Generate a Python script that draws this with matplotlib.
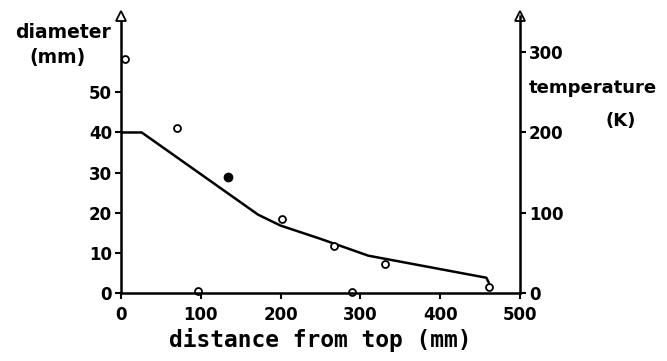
import matplotlib as mpl
import matplotlib.pyplot as plt

mpl.rcParams['font.family'] = 'DejaVu Sans'

# Data
line_x = [0, 26, 172, 200, 250, 310, 458, 461]
line_d = [40, 40, 19.5, 16.8, 13.5, 9.3, 3.8, 2.6]
open_x = [5, 70, 202, 267, 331, 461, 97, 289]
open_d = [58.2, 41, 18.4, 11.7, 7.2, 1.5, 0.5, 0.2]
filled_x = [134]
filled_d = [28.9]
d_ticks = [0, 10, 20, 30, 40, 50]
t_ticks = [0, 100, 200, 300]
x_ticks = [0, 100, 200, 300, 400, 500]

ytop = 69
k_per_mm = 5  # 200 K lines up with 40 mm

fig = plt.figure(figsize=(6.67, 3.61), dpi=100)
ax = fig.add_axes([0.1814, 0.1884, 0.598, 0.767])

ax.plot(line_x, line_d, color='k', lw=1.8, solid_capstyle='round', solid_joinstyle='round')
ax.plot(open_x, open_d, 'o', ms=5, mfc='white', mec='k', mew=1.3, clip_on=False)
ax.plot(filled_x, filled_d, 'o', ms=6, color='k', clip_on=False)

ax.set_xlim(0, 500)
ax.set_ylim(0, ytop)
ax.set_xticks(x_ticks)
ax.set_yticks(d_ticks)
for s in ['top', 'right']:
    ax.spines[s].set_visible(False)
for s in ['left', 'bottom']:
    ax.spines[s].set_linewidth(1.8)
ax.tick_params(axis='both', direction='out', length=4.5, width=1.5, labelsize=12)
ax.tick_params(axis='x', pad=5)
ax.tick_params(axis='y', pad=2)
for lab in ax.get_xticklabels() + ax.get_yticklabels():
    lab.set_fontweight('bold')

ax2 = ax.twinx()
ax2.set_ylim(0, ytop * k_per_mm)
ax2.set_yticks(t_ticks)
for s in ['top', 'left', 'bottom']:
    ax2.spines[s].set_visible(False)
ax2.spines['right'].set_linewidth(1.8)
ax2.tick_params(axis='y', direction='out', length=4.5, width=1.5, labelsize=12, pad=2)
for lab in ax2.get_yticklabels():
    lab.set_fontweight('bold')

# open arrow heads at the top of both vertical axes
ax.plot([0, 500], [ytop, ytop], '^', ms=7, mfc='white', mec='k', mew=1.3, clip_on=False, zorder=5)

ax.set_xlabel('distance from top (mm)', family='DejaVu Sans Mono', fontweight='bold',
              fontsize=16.5, labelpad=3)
fig.text(0.094, 0.91, 'diameter', ha='center', va='center', fontsize=13.5, fontweight='bold')
fig.text(0.086, 0.84, '(mm)', ha='center', va='center', fontsize=13.5, fontweight='bold')
fig.text(0.792, 0.755, 'temperature', ha='left', va='center', fontsize=13, fontweight='bold')
fig.text(0.93, 0.665, '(K)', ha='center', va='center', fontsize=13, fontweight='bold')

plt.savefig('out.png', dpi=100)
